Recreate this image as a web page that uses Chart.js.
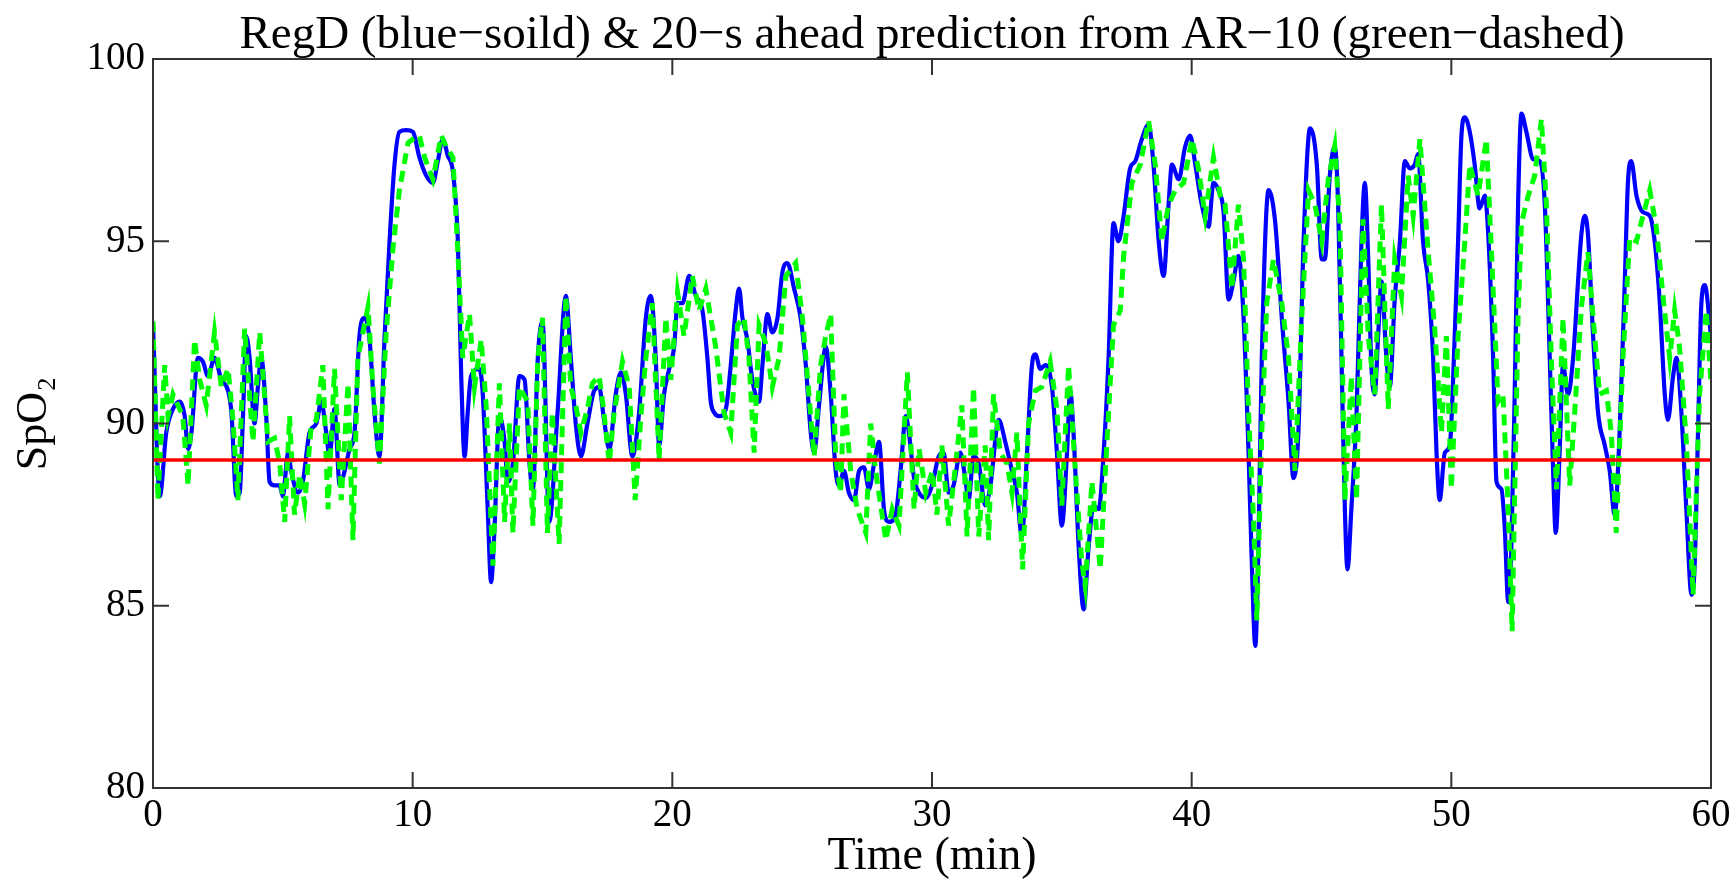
<!DOCTYPE html>
<html>
<head>
<meta charset="utf-8">
<title>RegD and AR-10 prediction</title>
<script src="https://cdn.jsdelivr.net/npm/chart.js@4.4.1/dist/chart.umd.min.js"></script>
<style>
  html, body { margin: 0; padding: 0; background: #fff; }
  #wrap { width: 1736px; height: 882px; position: relative; }
</style>
</head>
<body>
<div id="wrap"><canvas id="c"></canvas></div>
<script>
var SERIF = '"Liberation Serif", "Times New Roman", Times, serif';

// RegD SpO2 (blue, solid) - time in minutes, value in %
var blueT = [0, 0.26, 0.51, 0.77, 1.03, 1.22, 1.35, 1.48, 1.73, 1.92, 2.12, 2.37, 2.63, 2.89, 3.02, 3.21, 3.34, 3.46, 3.59, 3.72,
  3.91, 4.04, 4.17, 4.36, 4.49, 4.68, 4.88, 5.00, 5.20, 5.32, 5.58, 5.77, 6.03, 6.29, 6.48, 6.67, 6.80, 6.99, 7.19, 7.38,
  7.57, 7.76, 7.95, 8.15, 8.34, 8.53, 8.72, 8.92, 9.11, 9.30, 9.49, 9.75, 10.01, 10.26, 10.52, 10.78, 10.97, 11.16, 11.35, 11.55,
  11.74, 11.87, 12.00, 12.12, 12.25, 12.57, 12.70, 12.89, 13.02, 13.15, 13.34, 13.54, 13.66, 13.86, 14.11, 14.31, 14.50, 14.63, 14.82, 15.00,
  15.26, 15.58, 15.90, 16.09, 16.28, 16.48, 16.73, 16.99, 17.18, 17.37, 17.57, 17.82, 18.02, 18.21, 18.46, 18.72, 18.98, 19.17, 19.36, 19.49,
  19.68, 19.88, 20.07, 20.20, 20.39, 20.65, 20.90, 21.16, 21.35, 21.48, 21.61, 21.80, 22.06, 22.25, 22.44, 22.57, 22.70, 22.89, 23.08, 23.34,
  23.47, 23.66, 23.85, 24.05, 24.24, 24.43, 24.69, 24.94, 25.14, 25.33, 25.46, 25.65, 25.91, 26.10, 26.29, 26.42, 26.61, 26.80, 27.00, 27.19,
  27.38, 27.57, 27.77, 27.96, 28.15, 28.34, 28.60, 28.79, 28.99, 29.11, 29.31, 29.50, 29.76, 30.00,
  30.26, 30.45, 30.64, 30.83, 31.09, 31.28, 31.41, 31.60, 31.80, 32.05, 32.25, 32.57, 32.82, 33.08, 33.27, 33.46, 33.66, 33.85, 33.98, 34.17,
  34.36, 34.62, 34.81, 35.00, 35.20, 35.32, 35.45, 35.65, 35.84, 36.03, 36.22, 36.42, 36.61, 36.80, 36.99, 37.18, 37.38, 37.63, 37.83, 38.08,
  38.34, 38.53, 38.73, 38.92, 39.11, 39.24, 39.50, 39.75, 39.94, 40.14, 40.39, 40.65, 40.84, 41.03, 41.23, 41.42, 41.61, 41.80, 42.00, 42.19,
  42.32, 42.45, 42.57, 42.70, 42.96, 43.22, 43.47, 43.73, 43.92, 44.11, 44.31, 44.56, 44.82, 45.01,
  45.13, 45.32, 45.51, 45.64, 45.77, 45.90, 46.00, 46.15, 46.35, 46.54, 46.67, 46.80, 46.92, 47.05, 47.18, 47.31, 47.50, 47.63, 47.82, 48.02,
  48.21, 48.40, 48.59, 48.72, 48.91, 49.11, 49.30, 49.43, 49.55, 49.75, 49.94, 50.13, 50.26, 50.39, 50.52, 50.71, 50.90, 51.09, 51.29, 51.42,
  51.61, 51.74, 51.93, 52.06, 52.19, 52.31, 52.44, 52.57, 52.70, 52.89, 53.15, 53.40, 53.60, 53.79, 53.92, 54.02, 54.17, 54.30, 54.49, 54.69,
  54.88, 55.01, 55.14, 55.26, 55.46, 55.65, 55.91, 56.10, 56.29, 56.48, 56.68, 56.80, 56.93, 57.13, 57.38, 57.64, 57.83, 58.02, 58.22, 58.34,
  58.54, 58.67, 58.86, 59.05, 59.25, 59.37, 59.50, 59.63, 59.76, 60.00];
var blueV = [92.7, 88.0, 89.75, 90.4, 90.6, 90.2, 89.3, 89.75, 91.8, 91.7, 91.3, 91.8, 91.2, 90.9, 90.3, 88.0, 88.1, 90.1, 92.4, 91.8,
  90.0, 91.0, 91.8, 90.2, 88.4, 88.3, 88.3, 88.0, 89.2, 88.7, 88.1, 88.4, 89.75, 90.0, 90.6, 89.75, 89.1, 90.4, 88.3, 88.7,
  89.3, 89.75, 92.4, 92.9, 92.3, 90.3, 89.1, 92.4, 95.0, 97.1, 98.0, 98.05, 98.0, 97.3, 96.8, 96.6, 97.2, 97.8, 97.35, 96.9,
  95.0, 91.3, 89.1, 90.3, 91.3, 91.5, 90.8, 87.65, 85.65, 87.1, 90.2, 89.5, 88.4, 88.9, 91.3, 91.2, 88.9, 88.2, 91.8, 92.8,
  87.3, 90.3, 93.5, 91.8, 90.0, 89.1, 90.0, 90.9, 91.0, 90.1, 89.3, 90.8, 91.4, 90.8, 89.1, 90.3, 92.9, 93.5, 91.8, 89.4,
  90.8, 91.5, 92.1, 93.3, 93.3, 94.05, 93.5, 93.1, 91.8, 90.6, 90.3, 90.2, 90.4, 91.6, 93.1, 93.7, 92.9, 92.3, 91.2, 90.6,
  91.6, 93.0, 92.5, 92.9, 94.15, 94.4, 93.7, 92.9, 91.6, 89.75, 89.2, 90.5, 92.1, 90.8, 88.7, 88.3, 88.7, 88.1, 87.9, 88.7,
  88.8, 88.2, 88.9, 89.5, 87.65, 87.3, 87.5, 88.7, 90.2, 89.75, 88.5, 88.1, 87.96, 88.3,
  89.1, 89.2, 88.1, 88.3, 89.2, 88.5, 87.9, 89.1, 88.9, 87.75, 88.3, 90.1, 89.5, 88.7, 88.1, 86.9, 89.2, 91.6, 91.9, 91.5,
  91.6, 91.0, 89.2, 87.2, 89.2, 90.9, 89.75, 86.6, 84.9, 86.6, 87.75, 87.65, 89.2, 91.8, 95.5, 95.0, 95.7, 97.0, 97.2, 97.8,
  98.2, 97.1, 95.0, 94.05, 96.0, 97.1, 96.7, 97.6, 97.9, 97.1, 96.0, 95.4, 96.6, 96.4, 95.8, 93.4, 93.9, 94.6, 92.9, 89.2,
  86.1, 83.9, 86.6, 91.8, 96.4, 95.5, 92.9, 90.6, 88.5, 89.75, 95.0, 98.1, 97.1, 94.5,
  94.5, 96.8, 97.6, 96.0, 91.8, 87.65, 86.0, 87.65, 90.3, 95.0, 96.6, 94.5, 91.6, 90.8, 92.4, 93.9, 91.8, 91.0, 93.4, 95.0,
  97.2, 97.0, 97.1, 97.4, 95.0, 93.9, 91.8, 89.2, 87.9, 89.2, 89.4, 92.4, 95.0, 97.9, 98.4, 98.0, 97.1, 95.9, 96.25, 95.2,
  91.8, 88.4, 88.2, 87.1, 85.1, 86.6, 90.8, 96.0, 98.5, 98.0, 97.25, 97.2, 96.0, 91.8, 88.7, 87.0, 89.2, 91.6, 90.8, 91.8,
  93.9, 95.2, 95.7, 95.2, 92.4, 90.3, 89.4, 88.7, 87.5, 89.75, 93.9, 96.6, 97.2, 96.25, 95.8, 95.7, 95.0, 93.4, 90.8, 90.1,
  91.3, 91.8, 90.3, 87.65, 85.3, 86.1, 89.75, 93.3, 93.8, 92.4];

// 20-s ahead prediction from AR-10 (green, dashed)
var greenT = [0.00, 0.19, 0.45, 0.58, 0.77, 0.96, 1.15, 1.35, 1.60, 1.80, 2.05, 2.37, 2.63, 2.89, 3.08, 3.27, 3.53, 3.85, 4.11, 4.43,
  4.68, 4.88, 5.07, 5.26, 5.45, 5.65, 5.84, 6.09, 6.29, 6.54, 6.74, 6.99, 7.25, 7.51, 7.70, 7.89, 8.28, 8.47, 8.72, 8.98,
  9.24, 9.49, 9.82, 10.01, 10.26, 10.46, 10.78, 11.10, 11.29, 11.55, 11.74, 11.93, 12.19, 12.38, 12.64, 12.83, 13.09, 13.34, 13.54, 13.73,
  13.86, 14.11, 14.43, 14.63, 14.82, 15.00,
  15.19, 15.38, 15.64, 15.90, 16.09, 16.28, 16.48, 16.73, 16.92, 17.18, 17.37, 17.57, 17.76, 18.08, 18.34, 18.57, 18.79, 18.98, 19.23, 19.49,
  19.75, 19.94, 20.20, 20.45, 20.77, 21.03, 21.29, 21.67, 21.99, 22.25, 22.51, 22.76, 22.95, 23.15, 23.34, 23.60, 23.85, 24.11, 24.37, 24.75,
  25.01, 25.26, 25.46, 25.71, 25.91, 26.10, 26.29, 26.48, 26.61, 26.87, 27.12, 27.45, 27.64, 27.83, 28.22, 28.47, 28.73, 29.05, 29.31, 29.50,
  29.76, 30.01,
  30.19, 30.38, 30.64, 30.90, 31.15, 31.35, 31.60, 31.80, 32.05, 32.18, 32.37, 32.63, 32.89, 33.08, 33.27, 33.49, 33.72, 33.98, 34.23, 34.55,
  34.81, 35.00, 35.26, 35.52, 35.77, 35.90, 36.16, 36.48, 36.67, 36.80, 36.99, 37.25, 37.38, 37.70, 38.02, 38.34, 38.60, 38.85, 39.11, 39.37,
  39.69, 40.01, 40.26, 40.52, 40.84, 41.10, 41.29, 41.55, 41.80, 42.00, 42.19, 42.38, 42.51, 42.70, 42.89, 43.15, 43.47, 43.73, 43.98, 44.24,
  44.50, 44.75, 45.01,
  45.26, 45.51, 45.71, 45.90, 46.15, 46.35, 46.60, 46.80, 47.05, 47.31, 47.57, 47.82, 48.08, 48.34, 48.53, 48.79, 49.11, 49.36, 49.62, 49.81,
  50.00, 50.26, 50.52, 50.71, 51.03, 51.35, 51.54, 51.80, 51.99, 52.19, 52.34, 52.57, 52.70, 52.96, 53.21, 53.47, 53.66, 53.85, 54.05, 54.30,
  54.56, 54.75, 55.01, 55.26, 55.46, 55.71, 55.97, 56.16, 56.35, 56.61, 56.87, 57.13, 57.38, 57.64, 57.89, 58.15, 58.41, 58.60, 58.79, 59.05,
  59.31, 59.56, 59.82, 59.99];
var greenV = [92.8, 87.9, 91.6, 90.2, 90.8, 90.5, 90.2, 88.3, 92.3, 91.2, 90.5, 92.5, 91.0, 91.5, 90.1, 87.9, 92.6, 89.5, 92.5, 89.5,
  89.6, 88.9, 87.3, 90.2, 87.5, 88.6, 87.8, 89.9, 90.1, 91.6, 87.65, 91.5, 87.9, 91.1, 86.8, 91.8, 93.2, 91.0, 88.9, 92.5,
  94.8, 96.4, 97.7, 97.8, 97.9, 97.3, 96.7, 97.9, 97.6, 97.3, 94.7, 91.8, 93.0, 91.0, 92.3, 90.5, 86.1, 91.1, 87.3, 90.0,
  87.0, 91.0, 90.6, 87.2, 91.8, 92.9,
  87.0, 90.3, 86.7, 93.5, 91.0, 90.5, 89.75, 90.4, 91.1, 91.3, 90.3, 88.9, 90.3, 91.7, 91.0, 87.9, 90.2, 91.8, 93.3, 89.0,
  92.9, 91.2, 93.6, 92.4, 94.05, 93.1, 93.7, 92.1, 90.3, 89.75, 92.7, 92.9, 91.8, 89.2, 92.7, 92.2, 91.0, 91.8, 94.05, 94.4,
  92.9, 90.8, 89.1, 91.6, 92.4, 93.0, 89.1, 88.1, 90.8, 88.7, 87.65, 87.0, 90.0, 88.7, 86.8, 87.65, 87.2, 91.4, 87.65, 89.3,
  88.1, 88.7,
  87.5, 89.4, 87.2, 88.8, 90.5, 86.9, 91.0, 86.9, 89.4, 86.8, 90.8, 89.2, 88.9, 88.1, 89.75, 86.0, 90.0, 90.9, 91.0, 91.7,
  90.4, 87.75, 91.6, 88.7, 86.2, 85.55, 88.4, 86.0, 88.6, 90.3, 92.7, 93.1, 94.6, 96.6, 97.1, 98.3, 97.1, 95.0, 96.0, 96.4,
  96.6, 97.8, 97.0, 95.7, 97.3, 96.25, 96.0, 93.7, 96.0, 94.5, 90.3, 87.4, 84.6, 89.75, 93.3, 94.5, 93.3, 91.8, 88.7, 92.9,
  96.4, 96.0, 95.0,
  96.7, 97.6, 95.5, 87.9, 91.3, 87.9, 95.6, 92.4, 90.8, 96.0, 90.4, 94.5, 93.5, 96.8, 95.7, 97.8, 94.7, 92.6, 89.75, 92.4,
  88.2, 92.4, 95.0, 97.1, 96.25, 97.8, 94.8, 90.6, 90.8, 87.65, 84.3, 92.9, 95.5, 96.25, 96.8, 98.35, 96.0, 91.8, 88.2, 92.9,
  88.3, 90.3, 93.2, 94.7, 92.9, 90.8, 90.9, 89.75, 87.0, 91.8, 95.1, 95.0, 95.7, 96.4, 95.4, 93.5, 91.8, 93.1, 92.1, 89.5,
  85.3, 90.8, 93.1, 91.2];

// hypoxaemia limit (red)
var limitT = [0, 60];
var limitV = [89, 89];

var xTicks = { min: 0, max: 60, step: 10 };
var yTicks = { min: 80, max: 100, step: 5 };

function toPoints(ts, vs) {
  var pts = [];
  for (var i = 0; i < ts.length; i++) {
    pts.push({ x: ts[i], y: vs[i] });
  }
  return pts;
}

// matlab style frame: full box with ticks pointing inward
var axesBox = {
  id: 'axesBox',
  afterDatasetsDraw: function(chart) {
    var a = chart.chartArea;
    var c = chart.ctx;
    var xs = chart.scales.x;
    var ys = chart.scales.y;
    var len = 16;
    c.save();
    c.strokeStyle = '#333333';
    c.lineWidth = 2;
    c.strokeRect(a.left, a.top, a.right - a.left, a.bottom - a.top);
    c.beginPath();
    xs.ticks.forEach(function(t) {
      var px = xs.getPixelForValue(t.value);
      c.moveTo(px, a.bottom); c.lineTo(px, a.bottom - len);
      c.moveTo(px, a.top); c.lineTo(px, a.top + len);
    });
    ys.ticks.forEach(function(t) {
      var py = ys.getPixelForValue(t.value);
      c.moveTo(a.left, py); c.lineTo(a.left + len, py);
      c.moveTo(a.right, py); c.lineTo(a.right - len, py);
    });
    c.stroke();
    c.restore();
  }
};

var ctx = document.getElementById('c').getContext('2d');
var chart = new Chart(ctx, {
  type: 'line',
  data: {
    datasets: [
      {
        label: 'limit',
        data: toPoints(limitT, limitV),
        borderColor: '#ff0000',
        borderWidth: 3.5,
        pointRadius: 0
      },
      {
        label: 'AR-10 prediction',
        data: toPoints(greenT, greenV),
        borderColor: '#00ff00',
        borderWidth: 5,
        borderDash: [11, 7],
        pointRadius: 0,
        tension: 0
      },
      {
        label: 'RegD',
        data: toPoints(blueT, blueV),
        borderColor: '#0000ff',
        borderWidth: 4.2,
        pointRadius: 0,
        cubicInterpolationMode: 'monotone'
      }
    ]
  },
  options: {
    responsive: true,
    maintainAspectRatio: false,
    animation: false,
    events: [],
    layout: { padding: { left: 0, right: 25, top: 0, bottom: 0 } },
    plugins: {
      legend: { display: false },
      tooltip: { enabled: false },
      title: {
        display: true,
        fullSize: false,
        text: 'RegD (blue\u2212soild) & 20\u2212s ahead prediction from AR\u221210 (green\u2212dashed)',
        color: '#000',
        font: { family: SERIF, size: 47, weight: 'normal', lineHeight: 1 },
        padding: { top: 12, bottom: 0 }
      }
    },
    scales: {
      x: {
        type: 'linear',
        min: xTicks.min,
        max: xTicks.max,
        grid: { display: false, drawTicks: false },
        border: { display: false },
        ticks: {
          stepSize: xTicks.step,
          color: '#000',
          font: { family: SERIF, size: 39 },
          padding: 4,
          maxRotation: 0
        },
        title: {
          display: true,
          text: 'Time (min)',
          color: '#000',
          font: { family: SERIF, size: 46, lineHeight: 1.1 },
          padding: 0
        },
        afterFit: function(s) {
          s.height = 94;
          s.paddingLeft = 0;
          s.paddingRight = 0;
        }
      },
      y: {
        type: 'linear',
        min: yTicks.min,
        max: yTicks.max,
        grid: { display: false, drawTicks: false },
        border: { display: false },
        ticks: {
          stepSize: yTicks.step,
          color: '#000',
          font: { family: SERIF, size: 39 },
          padding: 8
        },
        title: {
          display: true,
          text: 'SpO\u2082',
          color: '#000',
          font: { family: SERIF, size: 44 },
          padding: { top: 8, bottom: 0 }
        },
        afterFit: function(s) {
          s.width = 153;
          s.paddingTop = 0;
          s.paddingBottom = 0;
        }
      }
    }
  },
  plugins: [axesBox]
});
</script>
</body>
</html>
